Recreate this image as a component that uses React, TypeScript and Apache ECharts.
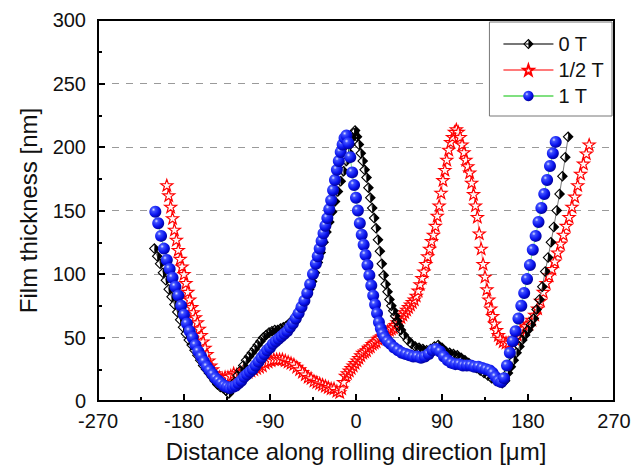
import React, { useEffect, useRef } from "react";
import * as echarts from "echarts";

const x0T = [-211,-208,-205,-202,-199,-196,-193,-190,-187,-184,-181,-178,-175,-172,-169,-166,-163,-160,-157,-154,-151,-148,-145,-142,-139,-136,-133,
  -130,-127,-124,-121,-118,-115,-112,-109,-106,-103,-100,-97,-94,-91,-88,-85,-82,-79,-76,-73,-70,-67,-64,-61,-58,-55,-52,-49,-46,-43,-40,-37,-34,-31,-28,-25,-22,-19,-16,-13,-10,-8,-6,-4,-2,-1,
  1,3,5,7,9,11,13,15,17,19,21,23,25,27,29,31,33,35,37,39,41,43,45,47,50,54,58,62,66,70,74,78,82,86,90,94,98,102,106,110,114,118,122,126,130,134,138,142,146,150,153,
  156,159,162,165,168,171,174,177,180,183,186,189,192,195,198,201,204,207,210,213,216,219,222];
const y0T = [120,114,108,101,95,88,82,76,70,64,58,53,48,44,40,36,32,28,25,22,19,16,13,11,10,8,6,
  10,15,20,24,28,32,35,38,41,44,47,50,52,54,55,56,56,57,58,59,61,63,66,69,73,77,82,88,94,101,109,117,125,133,141,149,157,165,173,181,189,196,202,207,211,213,
  208,202,195,189,182,176,168,160,152,144,136,127,118,108,99,92,86,80,75,71,67,63,59,56,52,48,45,43,42,41,40,41,43,44,42,39,38,37,36,34,32,30,28,26,24,22,20,18,16,15,14,
  16,22,27,32,38,43,48,52,56,60,65,72,80,90,102,113,125,137,150,163,177,192,208];

const xHalfT = [-198,-196,-194,-192,-190,-188,-186,-184,-182,-180,-178,-176,-174,-172,-170,-168,-166,-164,-162,-160,-158,-156,-154,-152,-150,-148,-146,-143,-140,-137,-134,-131,-128,-125,-122,-119,-116,-113,-110,-107,-104,-101,-98,-95,-92,-89,-86,-83,-80,-77,-74,-71,-68,-65,-62,-59,-56,-53,-50,-47,-44,-41,-38,-35,-32,-29,-26,-23,-20,-17,
  -15,-13,-11,-9,-7,-5,-3,-1,1,3,5,7,9,11,13,15,17,19,21,23,25,27,29,31,33,35,37,39,41,43,45,47,49,51,53,55,57,59,61,63,65,67,69,71,73,75,77,79,81,83,85,87,89,91,93,95,97,99,101,103,105,
  107,109,111,113,115,117,119,121,123,125,127,129,131,133,135,137,139,141,143,145,147,149,151,154,157,160,163,166,169,172,175,178,181,184,187,190,193,196,199,202,205,208,211,214,217,220,223,226,229,232,235,238,241,244];
const yHalfT = [170,162,153,144,135,127,119,112,106,100,93,86,80,74,70,66,62,57,52,47,42,37,32,28,25,22,20,19,18,19,19,20,22,21,22,23,22,23,24,25,26,27,28,30,31,32,33,33,33,33,32,31,30,29,27,25,23,21,19,18,16,15,14,13,12,11,10,10,8,7,
  10,15,20,22,24,26,28,30,32,34,36,38,39,40,42,43,45,46,47,49,50,51,52,54,55,56,57,58,60,62,64,66,68,70,72,74,76,78,80,83,87,92,97,102,108,114,120,126,131,138,146,154,164,174,182,190,198,204,208,212,214,
  212,208,202,196,190,185,180,172,163,154,145,132,120,108,98,88,80,73,67,61,56,52,49,47,46,46,47,49,52,55,57,59,61,64,68,73,79,86,93,99,104,110,117,124,131,138,145,153,161,170,179,187,195,202];

const x1T = [-210,-207,-204,-201,-198,-195,-192,-189,-186,-183,-180,-177,-174,-171,-168,-165,-162,-159,-156,-153,-150,-147,-144,-141,-138,-135,-132,-129,-126,-123,-120,-117,-114,-111,-108,-105,-102,-99,-96,-93,-90,-87,-84,-81,-78,-75,-72,-69,-66,-63,-60,-57,-54,-51,-48,-45,-42,-40,-38,-36,-34,-32,-30,-28,-26,-24,-22,-20,-18,-16,-14,-12,-10,
  -8,-6,-4,-2,0,2,4,6,8,10,12,14,16,18,20,22,24,26,28,30,33,36,40,44,48,52,56,60,64,68,72,76,80,84,88,92,96,100,104,108,112,116,120,124,128,132,136,140,143,146,149,152,
  155,158,161,164,167,170,173,176,179,182,185,188,191,194,197,200,203,206,209];
const y1T = [149,140,130,120,111,104,97,90,83,75,68,61,55,50,44,39,35,31,27,24,21,18,16,14,12,11,10,11,12,14,16,19,21,23,25,28,31,34,37,40,42,45,47,49,51,53,55,58,61,65,69,74,79,85,92,100,108,114,120,126,132,138,144,151,158,166,174,182,189,196,202,207,209,
  203,192,180,170,160,150,140,131,123,115,107,99,91,83,76,69,62,57,53,50,47,45,42,40,38,37,36,35,35,34,35,37,40,41,39,35,32,30,29,29,28,28,28,27,27,26,25,24,22,19,16,15,
  18,28,38,47,55,65,75,85,96,107,119,130,141,152,163,174,185,195,204];

const zip = (xs: number[], ys: number[]) => xs.map((x, i) => [x, ys[i]]);

const FONT = "Liberation Sans, Arial, sans-serif";

const diamondHalf =
  "path://M10,0 L20,10 L10,20 Z M10,0 L0,10 L10,20 Z M10,2.8 L10,17.2 L2.8,10 Z";
const star =
  "path://M10,0 L12.35,6.76 L19.51,6.91 L13.8,11.24 L15.88,18.09 L10,14 L4.12,18.09 L6.2,11.24 L0.49,6.91 L7.65,6.76 Z";

export default function App() {
  const ref = useRef<HTMLDivElement>(null);
  useEffect(() => {
    if (!ref.current) return;
    const chart = echarts.init(ref.current, null, { renderer: "svg" });
    const sphere = new echarts.graphic.RadialGradient(0.35, 0.32, 0.7, [
      { offset: 0, color: "#dfe3ff" },
      { offset: 0.22, color: "#3f50ff" },
      { offset: 0.65, color: "#0a14ee" },
      { offset: 1, color: "#00009a" },
    ]);
    chart.setOption({
      animation: false,
      backgroundColor: "#fff",
      textStyle: { fontFamily: FONT },
      grid: {
        left: 98,
        right: 30,
        top: 20,
        bottom: 70,
        show: true,
        borderColor: "#000",
        borderWidth: 2,
        backgroundColor: "transparent",
      },
      legend: {
        orient: "vertical",
        right: 32,
        top: 22,
        data: ["0 T", "1/2 T", "1 T"],
        backgroundColor: "#fff",
        borderColor: "#777",
        borderWidth: 1,
        borderRadius: 0,
        padding: [12, 8, 10, 13],
        itemWidth: 50,
        itemHeight: 13,
        itemGap: 6,
        textStyle: { fontSize: 20, color: "#111", fontFamily: FONT },
      },
      xAxis: {
        type: "value",
        min: -270,
        max: 270,
        interval: 90,
        name: "Distance along rolling direction [\u03bcm]",
        nameLocation: "middle",
        nameGap: 38,
        nameTextStyle: { fontSize: 24, color: "#111", fontFamily: FONT },
        axisLine: { show: true, onZero: false, lineStyle: { color: "#000", width: 2 } },
        axisTick: { show: true, inside: true, length: 7, lineStyle: { color: "#000", width: 2 } },
        minorTick: { show: true, splitNumber: 2, length: 4, lineStyle: { color: "#000", width: 2 } },
        axisLabel: { fontSize: 20, color: "#111", margin: 10, fontFamily: FONT },
        splitLine: { show: false },
      },
      yAxis: {
        type: "value",
        min: 0,
        max: 300,
        interval: 50,
        name: "Film thickness [nm]",
        nameLocation: "middle",
        nameGap: 58,
        nameTextStyle: { fontSize: 24, color: "#111", fontFamily: FONT },
        axisLine: { show: true, onZero: false, lineStyle: { color: "#000", width: 2 } },
        axisTick: { show: true, inside: true, length: 7, lineStyle: { color: "#000", width: 2 } },
        minorTick: { show: true, splitNumber: 2, length: 4, lineStyle: { color: "#000", width: 2 } },
        axisLabel: { fontSize: 20, color: "#111", margin: 12, fontFamily: FONT },
        splitLine: {
          show: true,
          showMinLine: false,
          showMaxLine: false,
          lineStyle: { color: "#9a9a9a", width: 1.2, type: [7, 7] },
        },
      },
      series: [
        {
          name: "0 T",
          type: "line",
          z: 3,
          data: zip(x0T, y0T),
          symbol: diamondHalf,
          symbolSize: 11,
          showAllSymbol: true,
          lineStyle: { color: "#777", width: 1 },
          itemStyle: { color: "#000", borderWidth: 0 },
        },
        {
          name: "1/2 T",
          type: "line",
          z: 2,
          data: zip(xHalfT, yHalfT),
          symbol: star,
          symbolSize: 12,
          symbolKeepAspect: true,
          showAllSymbol: true,
          lineStyle: { color: "#ff7a7a", width: 1 },
          itemStyle: { color: "rgba(255,255,255,0.85)", borderColor: "#ff0000", borderWidth: 1.2 },
        },
        {
          name: "1 T",
          type: "line",
          z: 4,
          data: zip(x1T, y1T),
          symbol: "circle",
          symbolSize: 12,
          showAllSymbol: true,
          lineStyle: { color: "#80e080", width: 1 },
          itemStyle: { color: sphere, borderWidth: 0 },
        },
      ],
    });
    return () => chart.dispose();
  }, []);
  return (
    <div
      ref={ref}
      style={{ position: "fixed", left: 0, top: 0, width: 644, height: 471 }}
    />
  );
}
